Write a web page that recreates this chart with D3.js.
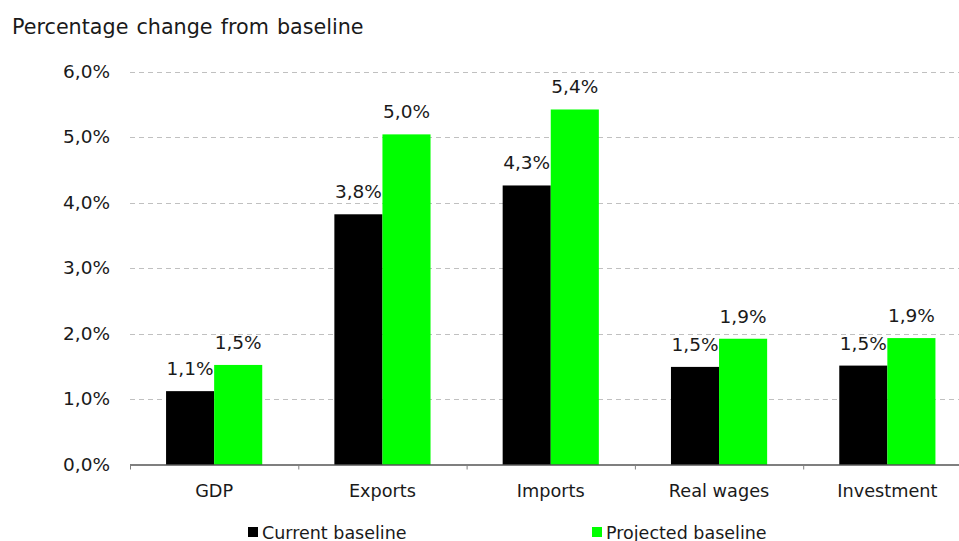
<!DOCTYPE html>
<html>
<head>
<meta charset="utf-8">
<script src="https://cdn.jsdelivr.net/npm/d3@7"></script>
<style>
  html, body { margin: 0; padding: 0; background: #fff; }
  svg { display: block; font-family: "DejaVu Sans", Verdana, sans-serif; }
</style>
</head>
<body>
<svg id="chart" width="959" height="541"></svg>
<script>
// Indicators shown on the x axis
const categories = ["GDP", "Exports", "Imports", "Real wages", "Investment"];
// Series
const seriesNames = ["Current baseline", "Projected baseline"];
const currentBaseline = [1.12, 3.82, 4.26, 1.49, 1.51];
const projectedBaseline = [1.52, 5.04, 5.42, 1.92, 1.93];
// Y axis ticks (percent)
const yTicks = [0, 1, 2, 3, 4, 5, 6];

const seriesColors = ["#000000", "#00ff00"];
const seriesValues = [currentBaseline, projectedBaseline];

const svg = d3.select("#chart");
const fmt = v => v.toFixed(1).replace(".", ",") + "%";
const textColor = "#1a1a1a";

const x0 = d3.scaleBand().domain(categories).range([130, 971.5]).paddingInner(0).paddingOuter(0);
const x1 = d3.scaleBand().domain(seriesNames).range([0, x0.bandwidth()]).paddingInner(0).paddingOuter(0.75);
const y = d3.scaleLinear().domain([0, 6]).range([464.5, 71.5]);

// Title
svg.append("text").attr("x", 12).attr("y", 34)
  .attr("font-size", 20.7).attr("word-spacing", 1.5).attr("fill", textColor)
  .text("Percentage change from baseline");

// Gridlines
svg.append("g").selectAll("line").data(yTicks.filter(t => t > 0)).join("line")
  .attr("x1", 130).attr("x2", 959)
  .attr("y1", d => Math.round(y(d)) + 0.5).attr("y2", d => Math.round(y(d)) + 0.5)
  .attr("stroke", "#c0c0c0").attr("stroke-width", 1).attr("stroke-dasharray", "5,4");

// Y axis labels
const yAxis = d3.axisLeft(y).tickValues(yTicks).tickFormat(fmt).tickSize(0).tickPadding(20);
svg.append("g").attr("transform", "translate(130,0)").call(yAxis)
  .call(g => g.select(".domain").remove())
  .call(g => g.selectAll("text").attr("font-size", 18.5).attr("fill", textColor)
    .attr("font-family", "DejaVu Sans, Verdana, sans-serif"));

// Bars
const groups = svg.append("g").selectAll("g").data(categories).join("g")
  .attr("transform", d => `translate(${x0(d)},0)`);

groups.selectAll("rect").data((d, i) => seriesNames.map((s, j) => ({ s, j, v: seriesValues[j][i] })))
  .join("rect")
  .attr("x", d => x1(d.s)).attr("width", x1.bandwidth())
  .attr("y", d => y(d.v)).attr("height", d => y(0) - y(d.v))
  .attr("fill", d => seriesColors[d.j]);

// Value labels
groups.selectAll("text.val").data((d, i) => seriesNames.map((s, j) => ({ s, j, v: seriesValues[j][i] })))
  .join("text").attr("class", "val")
  .attr("x", d => x1(d.s) + x1.bandwidth() / 2)
  .attr("y", d => y(d.v) - 16)
  .attr("text-anchor", "middle").attr("font-size", 18.5).attr("fill", textColor)
  .text(d => fmt(d.v));

// X axis
const xg = svg.append("g").attr("transform", `translate(0,${y(0)})`);
xg.append("line").attr("x1", 130).attr("x2", 959).attr("y1", 0.5).attr("y2", 0.5)
  .attr("stroke", "#000").attr("stroke-width", 1.2);
xg.selectAll("line.tk").data(categories).join("line").attr("class", "tk")
  .attr("x1", d => x0(d) + 0.5).attr("x2", d => x0(d) + 0.5)
  .attr("y1", 1).attr("y2", 5).attr("stroke", "#808080");
xg.selectAll("text.cat").data(categories).join("text").attr("class", "cat")
  .attr("x", d => x0(d) + x0.bandwidth() / 2).attr("y", 32.5)
  .attr("text-anchor", "middle").attr("font-size", 17.7).attr("fill", textColor)
  .text(d => d);

// Legend
const legendX = [248, 592];
const legend = svg.append("g").selectAll("g").data(seriesNames).join("g")
  .attr("transform", (d, i) => `translate(${legendX[i]},0)`);
legend.append("rect").attr("x", 0).attr("y", 527).attr("width", 10).attr("height", 10)
  .attr("fill", (d, i) => seriesColors[i]);
legend.append("text").attr("x", 14).attr("y", 538.5).attr("font-size", 17.5).attr("fill", textColor)
  .text(d => d);
</script>
</body>
</html>
